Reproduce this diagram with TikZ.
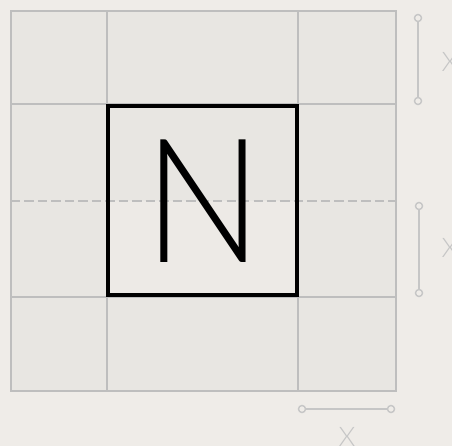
\documentclass[tikz,border=0pt]{standalone}
\usepackage{fontspec}
\usepackage{tikz}
\usetikzlibrary{positioning,calc}
\newfontfamily\glyphfont{Lato}[UprightFont=* Light]
\definecolor{paper}{HTML}{EFECE8}
\definecolor{cell}{HTML}{E8E6E2}
\definecolor{cellb}{HTML}{EDEAE6}
\definecolor{rule}{HTML}{BEBEBE}
\definecolor{dimc}{HTML}{C6C6C6}
\tikzset{
  gridl/.style ={draw=rule,line width=1.5pt},
  midl/.style  ={draw=rule,line width=1.2pt,dash pattern=on 8pt off 3.5pt},
  glyphbox/.style={draw=black,line width=2.7pt},
  tick/.style  ={circle,draw=dimc,fill=paper,line width=1.2pt,minimum size=6pt,inner sep=0pt},
  dimline/.style={dimc,line width=1.4pt},
  dimlab/.style={text=dimc,font=\glyphfont\fontsize{23}{23}\selectfont,inner sep=0pt},
}
\begin{document}
\begin{tikzpicture}[x=0.03cm,y=-0.03cm]
  \fill[paper] (0,0) rectangle (452,446);
  \useasboundingbox (0,0) rectangle (452,446);
  % module grid
  \fill[cell] (11,11) rectangle (396,391);
  \fill[cellb] (108,201) rectangle (297,295);
  \draw[gridl] (107,11) -- (107,391) (298,11) -- (298,391);
  \draw[gridl] (11,104) -- (396,104) (11,297) -- (396,297);
  \draw[gridl] (11,11) rectangle (396,391);
  \draw[midl] (11,201) -- (396,201);
  % glyph and its box
  \draw[glyphbox] (108,106) rectangle (297,295);
  \node[inner sep=0pt,font=\glyphfont\fontsize{148}{148}\selectfont] (glyph) at (203.5,201) {\scalebox{0.9}[1]{N}};
  % spacing marks
  \node[tick] (t1a) at (418,18) {};
  \node[tick] (t1b) at (418,101) {};
  \node[tick] (t2a) at (419,206) {};
  \node[tick] (t2b) at (419,293) {};
  \node[tick] (t3a) at (302,409) {};
  \node[tick] (t3b) at (391,409) {};
  \draw[dimline] (t1a) -- (t1b);
  \draw[dimline] (t2a) -- (t2b);
  \draw[dimline] (t3a) -- (t3b);
  \node[dimlab] (x1) at (450,62) {X};
  \node[dimlab] (x2) at (450,248) {X};
  \node[dimlab] (x3) at (347,437) {X};
\end{tikzpicture}
\end{document}
